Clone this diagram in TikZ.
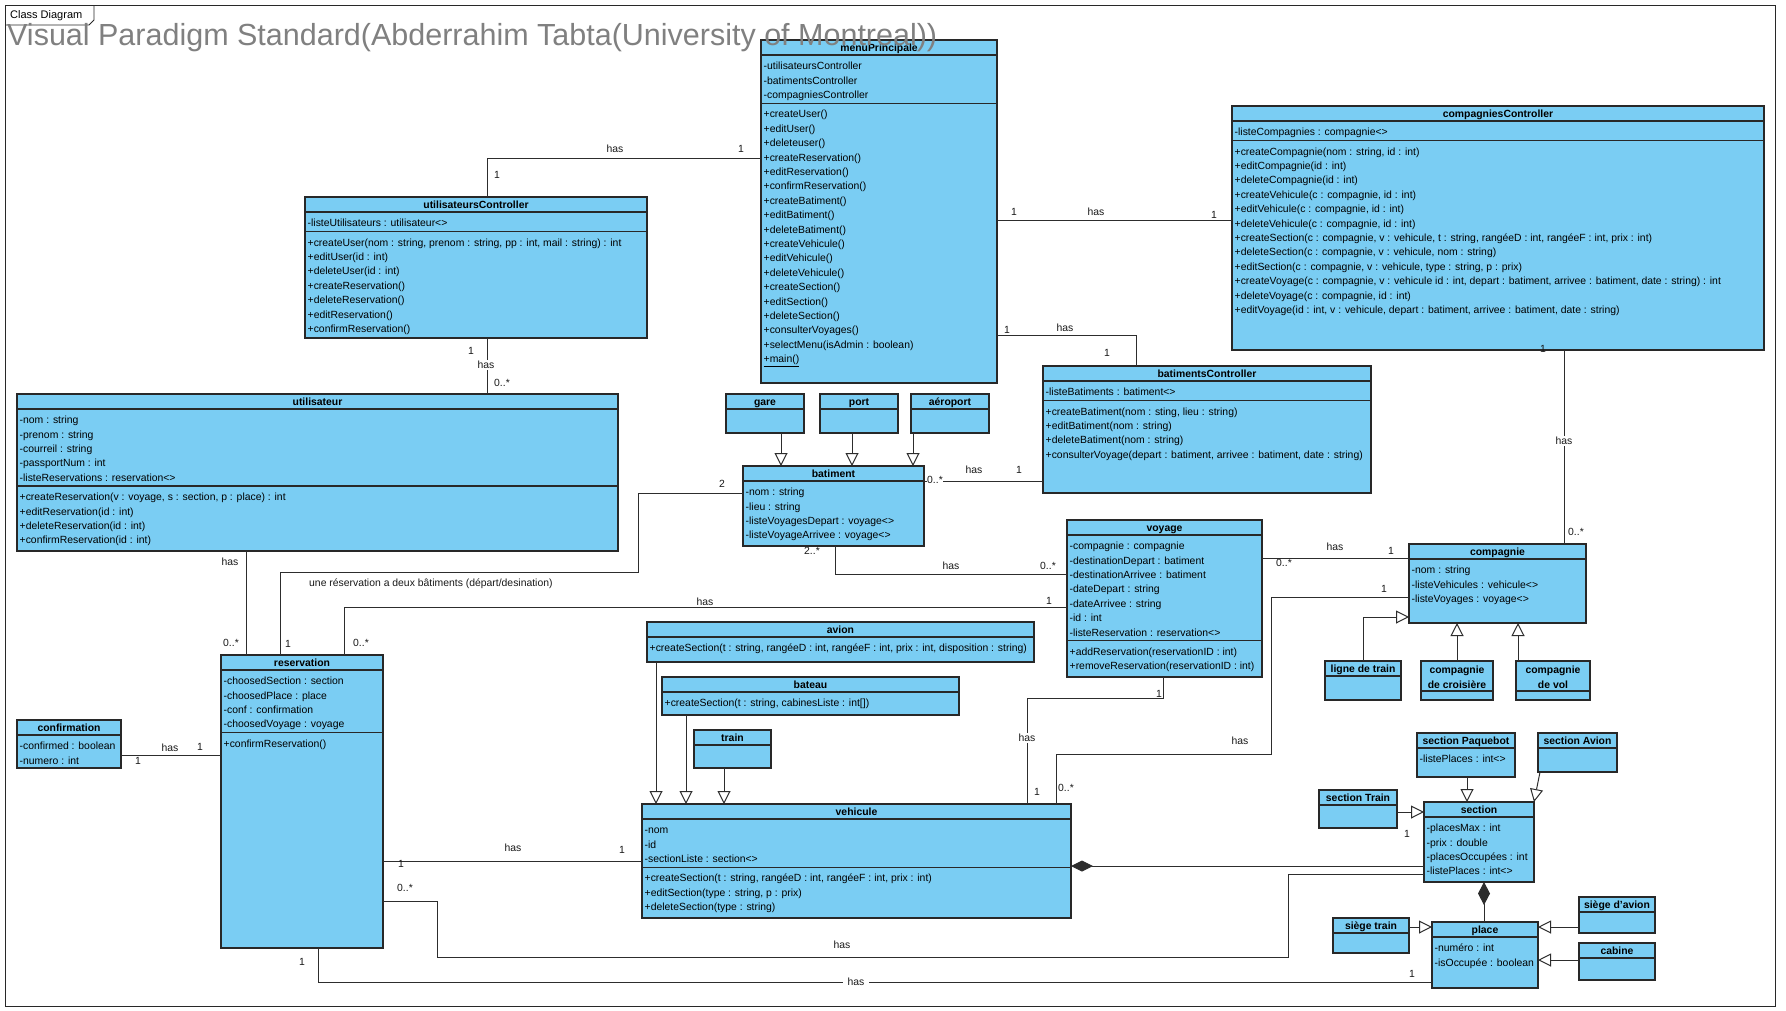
\documentclass[tikz,border=0pt]{standalone}
\usepackage{fontspec}
\setmainfont{Liberation Sans}
\usetikzlibrary{arrows.meta,calc}
\definecolor{clsfill}{RGB}{122,205,243}
\definecolor{boxline}{RGB}{40,40,40}
\definecolor{lncol}{RGB}{45,45,45}
\definecolor{lblcol}{RGB}{25,25,25}
\definecolor{ttlcol}{RGB}{128,128,128}
\newcommand\SX{\vrule height 10pt depth 4.4pt width 0pt}
\tikzset{
  cbox/.style={draw=boxline, fill=clsfill, line width=1.1pt, anchor=north west, inner sep=0pt, outer sep=0pt},
  ctitle/.style={font=\fontsize{10.4}{14.4}\selectfont\bfseries, anchor=base, inner sep=0pt},
  ctitletwo/.style={font=\fontsize{10.4}{14.4}\selectfont\bfseries, align=center, anchor=north, inner sep=0pt},
  ctext/.style={font=\fontsize{10.4}{14.4}\selectfont, align=left, anchor=north west, inner sep=0pt},
  csep/.style={draw=boxline, line width=1.1pt},
  conn/.style={draw=lncol, line width=1pt},
  gen/.style={conn, -{Triangle[length=13pt, width=13pt, fill=white]}},
  mult/.style={font=\fontsize{10.4}{12}\selectfont, inner sep=0pt, text=lblcol},
  hasw/.style={mult, fill=white, inner sep=1.5pt},
}
\newcommand\umlbox[6]{%
  \node[cbox, minimum width=#4, minimum height=#5] (#1) at (#2,#3) {};
  \node[ctitle] (#1-t) at ($(#1.north)+(0,11.5)$) {#6};
  \draw[csep] ($(#1.north west)+(0,15)$) -- ($(#1.north east)+(0,15)$);
}
\newcommand\umlsep[2]{\draw[csep] ($(#1.north west)+(0,#2)$) -- ($(#1.north east)+(0,#2)$);}
\newcommand\umlcomp[4]{\node[ctext] (#1-#2) at ($(#1.north west)+(2.5,#3+4.5)$) {\SX #4};}
\begin{document}
\begin{tikzpicture}[x=1pt,y=-1pt]
\useasboundingbox (0,0) rectangle (1786,1010);
\fill[white] (0,0) rectangle (1786,1010);
% frame
\draw[draw=boxline, line width=1pt] (5.5,5.5) rectangle (1775,1006);
\draw[draw=boxline, line width=0.8pt] (5.5,25) -- (89,25) -- (94,20) -- (94,5.5);
\node[anchor=west, font=\fontsize{11}{12}\selectfont, inner sep=0pt] (tabt) at (10,16) {Class Diagram};

% ---------- classes ----------
\umlbox{menu}{761}{40}{236}{343}{menuPrincipale}
\umlcomp{menu}{a}{15}{-utilisateursController\\-batimentsController\\-compagniesController}
\umlsep{menu}{63.2}
\umlcomp{menu}{m}{63.2}{+createUser()\\+editUser()\\+deleteuser()\\+createReservation()\\+editReservation()\\+confirmReservation()\\+createBatiment()\\+editBatiment()\\+deleteBatiment()\\+createVehicule()\\+editVehicule()\\+deleteVehicule()\\+createSection()\\+editSection()\\+deleteSection()\\+consulterVoyages()\\+selectMenu(isAdmin : boolean)\\\underline{+main()}}

\umlbox{cc}{1232}{106}{532}{244}{compagniesController}
\umlcomp{cc}{a}{15}{-listeCompagnies : compagnie<>}
\umlsep{cc}{34.4}
\umlcomp{cc}{m}{34.4}{+createCompagnie(nom : string, id : int)\\+editCompagnie(id : int)\\+deleteCompagnie(id : int)\\+createVehicule(c : compagnie, id : int)\\+editVehicule(c : compagnie, id : int)\\+deleteVehicule(c : compagnie, id : int)\\+createSection(c : compagnie, v : vehicule, t : string, rangéeD : int, rangéeF : int, prix : int)\\+deleteSection(c : compagnie, v : vehicule, nom : string)\\+editSection(c : compagnie, v : vehicule, type : string, p : prix)\\+createVoyage(c : compagnie, v : vehicule id : int, depart : batiment, arrivee : batiment, date : string) : int\\+deleteVoyage(c : compagnie, id : int)\\+editVoyage(id : int, v : vehicule, depart : batiment, arrivee : batiment, date : string)}

\umlbox{uc}{305}{197}{342}{141}{utilisateursController}
\umlcomp{uc}{a}{15}{-listeUtilisateurs : utilisateur<>}
\umlsep{uc}{34.4}
\umlcomp{uc}{m}{34.4}{+createUser(nom : string, prenom : string, pp : int, mail : string) : int\\+editUser(id : int)\\+deleteUser(id : int)\\+createReservation()\\+deleteReservation()\\+editReservation()\\+confirmReservation()}

\umlbox{ut}{17}{394}{601}{157}{utilisateur}
\umlcomp{ut}{a}{15}{-nom : string\\-prenom : string\\-courreil : string\\-passportNum : int\\-listeReservations : reservation<>}
\umlsep{ut}{92}
\umlcomp{ut}{m}{92}{+createReservation(v : voyage, s : section, p : place) : int\\+editReservation(id : int)\\+deleteReservation(id : int)\\+confirmReservation(id : int)}

\umlbox{bc}{1043}{366}{328}{127}{batimentsController}
\umlcomp{bc}{a}{15}{-listeBatiments : batiment<>}
\umlsep{bc}{34.4}
\umlcomp{bc}{m}{34.4}{+createBatiment(nom : sting, lieu : string)\\+editBatiment(nom : string)\\+deleteBatiment(nom : string)\\+consulterVoyage(depart : batiment, arrivee : batiment, date : string)}

\umlbox{bat}{743}{466}{181}{80}{batiment}
\umlcomp{bat}{a}{15}{-nom : string\\-lieu : string\\-listeVoyagesDepart : voyage<>\\-listeVoyageArrivee : voyage<>}

\umlbox{gare}{726}{394}{78}{39}{gare}
\umlbox{port}{820}{394}{78}{39}{port}
\umlbox{aero}{911}{394}{78}{39}{aéroport}

\umlbox{voy}{1067}{520}{195}{157}{voyage}
\umlcomp{voy}{a}{15}{-compagnie : compagnie\\-destinationDepart : batiment\\-destinationArrivee : batiment\\-dateDepart : string\\-dateArrivee : string\\-id : int\\-listeReservation : reservation<>}
\umlsep{voy}{120.8}
\umlcomp{voy}{m}{120.8}{+addReservation(reservationID : int)\\+removeReservation(reservationID : int)}

\umlbox{comp}{1409}{544}{177}{79}{compagnie}
\umlcomp{comp}{a}{15}{-nom : string\\-listeVehicules : vehicule<>\\-listeVoyages : voyage<>}

\umlbox{ldt}{1325}{661}{76}{39}{ligne de train}
\node[cbox, minimum width=72, minimum height=39] (cdc) at (1421,661) {};
\node[ctitletwo] (cdc-t) at ($(cdc.north)+(0,2.5)$) {\SX compagnie\\de croisière};
\umlsep{cdc}{30}
\node[cbox, minimum width=74, minimum height=39] (cdv) at (1516,661) {};
\node[ctitletwo] (cdv-t) at ($(cdv.north)+(0,2.5)$) {\SX compagnie\\de vol};
\umlsep{cdv}{30}

\umlbox{veh}{642}{804}{429}{114}{vehicule}
\umlcomp{veh}{a}{15}{-nom\\-id\\-sectionListe : section<>}
\umlsep{veh}{63.2}
\umlcomp{veh}{m}{63.2}{+createSection(t : string, rangéeD : int, rangéeF : int, prix : int)\\+editSection(type : string, p : prix)\\+deleteSection(type : string)}

\umlbox{avion}{647}{622}{387}{40}{avion}
\umlcomp{avion}{m}{15}{+createSection(t : string, rangéeD : int, rangéeF : int, prix : int, disposition : string)}
\umlbox{bateau}{662}{677}{297}{38}{bateau}
\umlcomp{bateau}{m}{15}{+createSection(t : string, cabinesListe : int[])}
\umlbox{train}{694}{730}{77}{38}{train}

\umlbox{sec}{1424}{802}{110}{80}{section}
\umlcomp{sec}{a}{15}{-placesMax : int\\-prix : double\\-placesOccupées : int\\-listePlaces : int<>}
\umlbox{sp}{1417}{733}{98}{44}{section Paquebot}
\umlcomp{sp}{a}{15}{-listePlaces : int<>}
\umlbox{sa}{1538}{733}{79}{39}{section Avion}
\umlbox{st}{1319}{790}{78}{38}{section Train}

\umlbox{place}{1432}{922}{106}{66}{place}
\umlcomp{place}{a}{15}{-numéro : int\\-isOccupée : boolean}
\umlbox{sgt}{1333}{918}{76}{35}{siège train}
\umlbox{sga}{1579}{897}{76}{36}{siège d'avion}
\umlbox{cab}{1579}{943}{76}{37}{cabine}

\umlbox{res}{221}{655}{162}{293}{reservation}
\umlcomp{res}{a}{15}{-choosedSection : section\\-choosedPlace : place\\-conf : confirmation\\-choosedVoyage : voyage}
\umlsep{res}{77.6}
\umlcomp{res}{m}{77.6}{+confirmReservation()}

\umlbox{conf}{17}{720}{104}{48}{confirmation}
\umlcomp{conf}{a}{15}{-confirmed : boolean\\-numero : int}

% ---------- connectors ----------
\coordinate (pA) at (487,158);
\draw[conn] (uc.north -| pA) |- (menu.west |- pA);
\coordinate (pB) at (0,220);
\draw[conn] (menu.east |- pB) -- (cc.west |- pB);
\coordinate (pC) at (1136,335);
\draw[conn] (menu.east |- pC) -| (bc.north -| pC);
\coordinate (pD) at (487,0);
\draw[conn] (uc.south -| pD) -- (ut.north -| pD);
\coordinate (pE) at (246,0);
\draw[conn] (ut.south -| pE) -- (res.north -| pE);
\coordinate (pF1) at (280,572);
\coordinate (pF2) at (638,493);
\draw[conn] (res.north -| pF1) -- (pF1) -| (pF2) -- (bat.west |- pF2);
\coordinate (pG) at (835,574);
\draw[conn] (bat.south -| pG) |- (voy.west |- pG);
\coordinate (pH) at (344,607);
\draw[conn] (res.north -| pH) |- (voy.west |- pH);
\coordinate (pI) at (0,558);
\draw[conn] (voy.east |- pI) -- (comp.west |- pI);
\coordinate (pJ1) at (1271,597);
\coordinate (pJ2) at (1056,754);
\draw[conn] (comp.west |- pJ1) -- (pJ1) |- (pJ2) -- (veh.north -| pJ2);
\coordinate (pK1) at (1163,698);
\coordinate (pK2) at (1027,698);
\draw[conn] (voy.south -| pK1) -- (pK1) -- (pK2) -- (veh.north -| pK2);
\coordinate (pL) at (0,861);
\draw[conn] (res.east |- pL) -- (veh.west |- pL);
\coordinate (pM1) at (437,901);
\coordinate (pM2) at (1288,957);
\coordinate (pM3) at (0,874);
\draw[conn] (res.east |- pM1) -- (pM1) |- (pM2) |- (sec.west |- pM3);
\coordinate (pN) at (0,866);
\draw[conn, {Diamond[length=22pt,width=11pt]}-] (veh.east |- pN) -- (sec.west |- pN);
\coordinate (pO) at (318,982);
\draw[conn] (res.south -| pO) |- (place.west |- pO);
\coordinate (pP1) at (0,812);
\draw[gen] (st.east |- pP1) -- (sec.west |- pP1);
\coordinate (pP2) at (1467,0);
\draw[gen] (sp.south -| pP2) -- (sec.north -| pP2);
\coordinate (pP3a) at (1540,0);
\coordinate (pP3b) at (1534,0);
\draw[gen] (sa.south -| pP3a) -- (sec.north -| pP3b);
\coordinate (pQ) at (1484,0);
\draw[conn, {Diamond[length=23pt,width=12pt]}-] (sec.south -| pQ) -- (place.north -| pQ);
\coordinate (pR1) at (0,927);
\draw[gen] (sgt.east |- pR1) -- (place.west |- pR1);
\draw[gen] (sga.west |- pR1) -- (place.east |- pR1);
\coordinate (pR3) at (0,960);
\draw[gen] (cab.west |- pR3) -- (place.east |- pR3);
\coordinate (pS1) at (781,0);
\coordinate (pS2) at (852,0);
\coordinate (pS3) at (913,0);
\draw[gen] (gare.south -| pS1) -- (bat.north -| pS1);
\draw[gen] (port.south -| pS2) -- (bat.north -| pS2);
\draw[gen] (aero.south -| pS3) -- (bat.north -| pS3);
\coordinate (pT1) at (656,0);
\coordinate (pT2) at (686,0);
\coordinate (pT3) at (724,0);
\draw[gen] (avion.south -| pT1) -- (veh.north -| pT1);
\draw[gen] (bateau.south -| pT2) -- (veh.north -| pT2);
\draw[gen] (train.south -| pT3) -- (veh.north -| pT3);
\coordinate (pU1) at (1363,617);
\draw[gen] (ldt.north -| pU1) |- (comp.west |- pU1);
\coordinate (pU2) at (1457,0);
\coordinate (pU3) at (1518,0);
\draw[gen] (cdc.north -| pU2) -- (comp.south -| pU2);
\draw[gen] (cdv.north -| pU3) -- (comp.south -| pU3);
\coordinate (pV) at (1564,0);
\draw[conn] (cc.south -| pV) -- (comp.north -| pV);
\coordinate (pW) at (0,481);
\draw[conn] (bat.east |- pW) -- (bc.west |- pW);
\coordinate (pX) at (0,755);
\draw[conn] (conf.east |- pX) -- (res.west |- pX);

% ---------- labels ----------
\node[mult] (lA1) at (497,175) {1};
\node[mult] (lA2) at (615,149) {has};
\node[mult] (lA3) at (741,149) {1};
\node[mult] (lB1) at (1014,212) {1};
\node[mult] (lB2) at (1096,212) {has};
\node[mult] (lB3) at (1214,215) {1};
\node[mult] (lC1) at (1007,330) {1};
\node[mult] (lC2) at (1065,328) {has};
\node[mult] (lC3) at (1107,353) {1};
\node[mult] (lD1) at (471,351) {1};
\node[hasw] (lD2) at (486,365) {has};
\node[mult] (lD3) at (502,383) {0..*};
\node[mult] (lE1) at (230,562) {has};
\node[mult] (lE2) at (231,643) {0..*};
\node[mult] (lF1) at (288,644) {1};
\node[mult] (lF2) at (722,484) {2};
\node[mult, anchor=west] (lF3) at (309,584) {une réservation a deux bâtiments (départ/desination)};
\node[mult] (lG1) at (812,551) {2..*};
\node[mult] (lG2) at (951,566) {has};
\node[mult] (lG3) at (1048,566) {0..*};
\node[mult] (lH1) at (361,643) {0..*};
\node[mult] (lH2) at (705,602) {has};
\node[mult] (lH3) at (1049,601) {1};
\node[mult] (lI1) at (1284,563) {0..*};
\node[mult] (lI2) at (1335,547) {has};
\node[mult] (lI3) at (1391,551) {1};
\node[mult] (lJ1) at (1384,589) {1};
\node[mult] (lJ2) at (1240,741) {has};
\node[mult] (lJ3) at (1066,788) {0..*};
\node[mult] (lK1) at (1159,694) {1};
\node[hasw] (lK2) at (1027,738) {has};
\node[mult] (lK3) at (1037,792) {1};
\node[mult] (lL1) at (401,864) {1};
\node[mult] (lL2) at (513,848) {has};
\node[mult] (lL3) at (622,850) {1};
\node[mult] (lM1) at (405,888) {0..*};
\node[mult] (lM2) at (842,945) {has};
\node[mult] (lN1) at (1407,834) {1};
\node[mult] (lO1) at (302,962) {1};
\node[hasw, inner xsep=5pt] (lO2) at (856,982) {has};
\node[mult] (lO3) at (1412,974) {1};
\node[mult] (lV1) at (1543,349) {1};
\node[hasw] (lV2) at (1564,441) {has};
\node[mult] (lV3) at (1576,532) {0..*};
\node[hasw, inner sep=0.5pt] (lW1) at (935,480) {0..*};
\node[mult] (lW2) at (974,470) {has};
\node[mult] (lW3) at (1019,470) {1};
\node[mult] (lX1) at (138,761) {1};
\node[mult] (lX2) at (170,748) {has};
\node[mult] (lX3) at (200,747) {1};

% title on top
\node[anchor=base west, font=\fontsize{30.5}{36}\selectfont, text=ttlcol, inner sep=0pt] (title) at (7,45.5) {Visual Paradigm Standard(Abderrahim Tabta(University of Montreal))};
\end{tikzpicture}
\end{document}
